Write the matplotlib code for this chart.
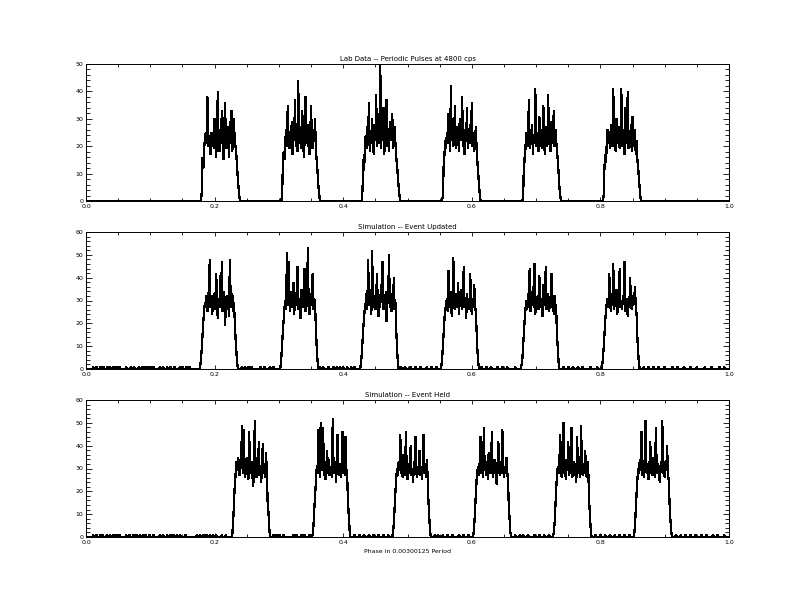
import numpy as np
import matplotlib
matplotlib.use("Agg")
import matplotlib.pyplot as plt
from matplotlib.ticker import MultipleLocator, FormatStrFormatter

# ---------------- data ----------------
titles = ["Lab Data -- Periodic Pulses at 4800 cps",
          "Simulation -- Event Updated",
          "Simulation -- Event Held"]
xlabel_text = "Phase in 0.00300125 Period"
y_maxes = [50, 60, 60]
bin_width = 0.00125

lab_pulse_starts = [0.180, 0.305, 0.430, 0.555, 0.680, 0.805]
lab_pulses = [
    [3, 16, 12, 19, 23, 25, 21, 38, 20, 24, 22, 17, 25, 21, 23, 19, 30, 22, 16, 26, 40, 20, 18, 24, 22, 33, 21, 15, 25, 36, 22, 19, 24, 27, 16, 29, 21, 33, 18, 24, 30, 22, 20, 17, 12, 8, 4, 1],
    [2, 14, 18, 15, 22, 26, 20, 35, 23, 19, 25, 21, 29, 17, 24, 22, 37, 20, 26, 18, 44, 23, 21, 27, 19, 33, 24, 16, 22, 38, 21, 25, 20, 28, 17, 24, 35, 22, 19, 26, 23, 30, 18, 15, 11, 6, 3, 0],
    [4, 15, 11, 20, 24, 19, 27, 22, 36, 18, 25, 21, 30, 23, 17, 26, 22, 39, 20, 24, 28, 21, 55, 19, 25, 23, 34, 17, 22, 26, 37, 20, 24, 18, 29, 22, 25, 32, 19, 23, 27, 21, 16, 13, 9, 5, 2, 0],
    [2, 13, 17, 22, 19, 25, 21, 32, 24, 18, 42, 22, 26, 20, 23, 35, 19, 27, 21, 24, 18, 30, 22, 25, 38, 20, 23, 17, 26, 22, 34, 19, 24, 21, 28, 23, 36, 20, 25, 18, 22, 27, 19, 14, 10, 6, 2, 0],
    [3, 16, 14, 21, 25, 20, 23, 37, 19, 26, 22, 28, 17, 24, 21, 41, 20, 25, 23, 18, 31, 22, 26, 19, 24, 35, 21, 17, 27, 23, 20, 39, 22, 25, 18, 29, 21, 24, 33, 20, 26, 22, 18, 15, 10, 5, 2, 0],
    [2, 12, 17, 14, 22, 26, 21, 24, 19, 28, 23, 20, 41, 22, 25, 18, 30, 24, 21, 27, 19, 23, 41, 20, 26, 22, 17, 34, 24, 21, 40, 19, 25, 22, 28, 18, 31, 23, 20, 26, 17, 22, 15, 12, 8, 4, 1, 0],
]
lab_blips = []

upd_pulse_starts = [0.177, 0.302, 0.427, 0.552, 0.677, 0.802]
upd_pulses = [
    [1, 4, 9, 15, 21, 26, 29, 27, 32, 25, 30, 36, 48, 27, 31, 24, 29, 33, 26, 30, 42, 28, 22, 31, 27, 41, 29, 47, 25, 30, 34, 19, 28, 32, 26, 29, 23, 48, 30, 27, 33, 25, 29, 22, 14, 8, 3, 0],
    [1, 5, 11, 17, 22, 27, 30, 26, 51, 28, 47, 31, 25, 34, 29, 27, 38, 24, 30, 28, 33, 45, 26, 29, 31, 22, 35, 28, 27, 30, 44, 25, 32, 29, 53, 27, 24, 33, 28, 30, 42, 26, 31, 28, 18, 10, 4, 0],
    [2, 6, 12, 18, 23, 27, 29, 33, 26, 48, 30, 28, 35, 24, 52, 29, 27, 32, 26, 30, 42, 28, 23, 31, 27, 37, 29, 47, 26, 30, 28, 34, 21, 29, 31, 50, 27, 30, 25, 33, 28, 40, 26, 29, 17, 9, 3, 0],
    [1, 4, 10, 16, 22, 26, 28, 31, 25, 43, 29, 27, 34, 23, 30, 49, 28, 26, 33, 29, 27, 38, 24, 30, 28, 35, 26, 31, 45, 27, 29, 22, 33, 28, 30, 26, 42, 29, 24, 31, 27, 37, 28, 25, 16, 8, 3, 0],
    [2, 5, 11, 17, 23, 27, 30, 26, 33, 28, 44, 25, 31, 29, 36, 27, 46, 24, 30, 28, 32, 26, 41, 29, 27, 31, 23, 37, 28, 30, 45, 26, 29, 33, 25, 28, 31, 42, 27, 30, 24, 32, 28, 26, 15, 9, 3, 0],
    [1, 4, 9, 15, 21, 26, 29, 31, 27, 42, 30, 25, 33, 28, 46, 26, 30, 29, 35, 24, 31, 28, 44, 27, 30, 26, 32, 29, 47, 25, 28, 31, 23, 30, 27, 40, 29, 26, 32, 28, 30, 36, 27, 24, 14, 7, 2, 0],
]
upd_blips = [0.011, 0.016, 0.023, 0.027, 0.034, 0.037, 0.043, 0.048, 0.052, 0.063, 0.070, 0.075,
             0.082, 0.087, 0.093, 0.097, 0.101, 0.105, 0.115, 0.120, 0.126, 0.131, 0.138, 0.146,
             0.150, 0.156, 0.161, 0.242, 0.247, 0.252, 0.258, 0.271, 0.278, 0.286, 0.291,
             0.364, 0.369, 0.377, 0.385, 0.390, 0.395, 0.400, 0.406, 0.412, 0.418,
             0.490, 0.496, 0.505, 0.512, 0.520, 0.530, 0.538, 0.545,
             0.615, 0.622, 0.630, 0.640, 0.648, 0.655, 0.668,
             0.742, 0.750, 0.757, 0.765, 0.772, 0.785, 0.795,
             0.868, 0.875, 0.882, 0.890, 0.900, 0.912, 0.920, 0.930, 0.940, 0.950,
             0.962, 0.972, 0.985, 0.992]

held_pulse_starts = [0.228, 0.353, 0.478, 0.603, 0.728, 0.853]
held_pulses = [
    [1, 6, 14, 22, 27, 33, 29, 35, 31, 27, 34, 30, 49, 28, 47, 32, 26, 30, 35, 29, 25, 46, 31, 28, 33, 27, 22, 30, 51, 29, 26, 32, 28, 42, 27, 30, 24, 33, 41, 28, 31, 26, 37, 28, 15, 11, 4, 0],
    [1, 5, 12, 18, 24, 30, 28, 47, 32, 26, 50, 29, 33, 48, 27, 31, 25, 30, 38, 28, 34, 27, 31, 29, 26, 52, 30, 28, 33, 24, 31, 45, 29, 27, 32, 26, 30, 46, 28, 31, 27, 44, 29, 26, 15, 9, 3, 0],
    [2, 6, 13, 20, 26, 30, 27, 33, 29, 45, 28, 31, 26, 36, 30, 27, 46, 29, 25, 32, 28, 31, 40, 27, 30, 24, 33, 29, 44, 28, 26, 31, 29, 38, 27, 30, 25, 32, 45, 28, 30, 26, 34, 27, 16, 9, 3, 0],
    [1, 5, 11, 19, 25, 29, 31, 27, 34, 44, 28, 30, 26, 48, 29, 33, 27, 31, 25, 37, 29, 28, 32, 46, 26, 30, 28, 34, 27, 23, 31, 42, 29, 27, 33, 28, 47, 30, 26, 31, 28, 35, 29, 25, 14, 8, 2, 0],
    [2, 6, 14, 21, 27, 31, 28, 33, 45, 29, 26, 32, 50, 28, 30, 25, 34, 29, 42, 27, 31, 28, 48, 26, 30, 33, 27, 29, 24, 44, 31, 28, 30, 26, 49, 29, 27, 32, 28, 38, 30, 26, 33, 28, 16, 9, 3, 0],
    [1, 5, 12, 19, 25, 30, 28, 34, 29, 46, 27, 31, 26, 33, 51, 29, 28, 32, 25, 30, 42, 28, 31, 27, 35, 29, 26, 48, 30, 28, 32, 27, 24, 31, 29, 51, 28, 30, 26, 33, 29, 40, 27, 25, 15, 8, 3, 0],
]
held_blips = [0.011, 0.016, 0.022, 0.026, 0.032, 0.037, 0.043, 0.048, 0.053, 0.063, 0.067, 0.074,
              0.079, 0.084, 0.089, 0.093, 0.099, 0.105, 0.115, 0.120, 0.126, 0.131, 0.136, 0.141,
              0.146, 0.155, 0.172, 0.177, 0.182, 0.187, 0.193, 0.198, 0.203, 0.211, 0.218,
              0.291, 0.296, 0.301, 0.308, 0.322, 0.327, 0.335, 0.340, 0.347,
              0.418, 0.425, 0.432, 0.440, 0.448, 0.455, 0.462, 0.470,
              0.542, 0.548, 0.555, 0.562, 0.570, 0.580, 0.588, 0.595,
              0.668, 0.675, 0.680, 0.688, 0.697, 0.705, 0.712, 0.720,
              0.792, 0.800, 0.808, 0.815, 0.822, 0.830, 0.838, 0.845,
              0.918, 0.925, 0.932, 0.940, 0.948, 0.958, 0.965, 0.975, 0.983, 0.992]

panels = [(lab_pulse_starts, lab_pulses, lab_blips),
          (upd_pulse_starts, upd_pulses, upd_blips),
          (held_pulse_starts, held_pulses, held_blips)]


def build_series(starts, pulses, blips):
    nb = int(round(1.0 / bin_width))
    counts = np.zeros(nb)
    for p in blips:
        counts[int(round(p / bin_width))] = 1
    for s, vals in zip(starts, pulses):
        i0 = int(round(s / bin_width))
        counts[i0:i0 + len(vals)] = vals
    x = np.arange(nb) * bin_width
    return x, counts


# ---------------- figure ----------------
plt.rcParams['font.family'] = ['DejaVu Sans']
fig = plt.figure(figsize=(7.92, 6.12), dpi=100)
fig.patch.set_facecolor('white')

W, H = 792.0, 612.0
left_px, right_px = 86, 729
boxes = [(64, 201), (232, 369), (400, 537)]

for k, ((starts, pulses, blips), (top, bot)) in enumerate(zip(panels, boxes)):
    ax = fig.add_axes([left_px / W, 1 - bot / H, (right_px - left_px) / W, (bot - top) / H])
    x, y = build_series(starts, pulses, blips)
    ax.plot(x, y, color='black', lw=0.9, solid_joinstyle='miter', antialiased=False)
    ax.set_xlim(0, 1)
    ax.set_ylim(0, y_maxes[k])
    ax.xaxis.set_major_locator(MultipleLocator(0.2))
    ax.xaxis.set_minor_locator(MultipleLocator(0.05))
    ax.yaxis.set_major_locator(MultipleLocator(10))
    ax.yaxis.set_minor_locator(MultipleLocator(2))
    ax.xaxis.set_major_formatter(FormatStrFormatter('%.1f'))
    ax.yaxis.set_major_formatter(FormatStrFormatter('%d'))
    ax.tick_params(axis='both', which='both', direction='in', top=True, right=True,
                   labelsize=4.5, width=0.6, color='black', pad=2)
    ax.tick_params(axis='y', which='major', length=4.5, labelright=False)
    ax.tick_params(axis='y', which='minor', length=3)
    ax.tick_params(axis='x', which='major', length=3)
    ax.tick_params(axis='x', which='minor', length=2.5)
    for sp in ax.spines.values():
        sp.set_linewidth(0.7)
        sp.set_color('black')
    ax.set_title(titles[k], fontsize=5, pad=2)
    if k == 2:
        ax.set_xlabel(xlabel_text, fontsize=4.5, labelpad=3)

fig.savefig('out.png', dpi=100, facecolor='white')
